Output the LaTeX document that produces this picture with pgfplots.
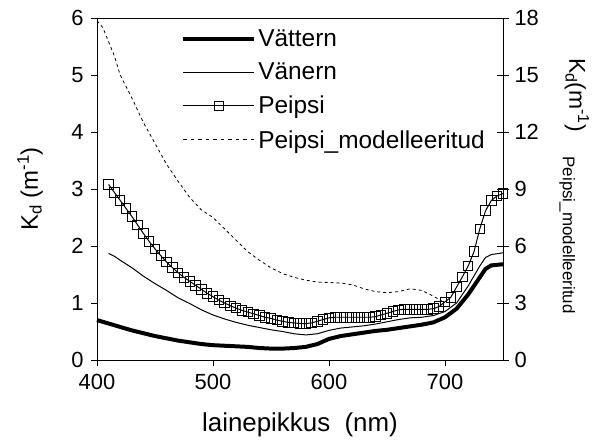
\documentclass[border=0pt]{standalone}
\usepackage{pgfplots}
\pgfplotsset{compat=1.18}
\usepackage{fontspec}
\setmainfont{Liberation Sans}
\begin{document}
\begin{tikzpicture}
\path[use as bounding box] (-97bp,-86bp) rectangle (500bp,360bp);
\begin{axis}[
  scale only axis, width=406bp, height=342bp,
  xmin=400, xmax=750, ymin=0, ymax=6,
  xtick={400,500,600,700}, ytick={0,1,2,3,4,5,6},
  axis y line*=left, axis x line*=bottom,
  tick align=outside, major tick length=6bp,
  tick style={black, line width=0.8pt},
  axis line style={line width=0.9pt},
  /pgf/number format/assume math mode=true,
  ticklabel style={font=\fontsize{22}{26}\selectfont},
  xticklabel style={yshift=-5bp},
  yticklabel style={xshift=-4bp},
  legend style={draw=none, fill=none, at={(0.205,0.975)}, anchor=north west,
    font=\fontsize{24.5}{28}\selectfont, row sep=11pt, inner sep=1pt},
  legend cell align=left,
  legend image code/.code={\draw[mark repeat=2,mark phase=2,#1] plot coordinates {(0cm,0cm) (1.25cm,0cm) (2.5cm,0cm)};},
  clip=false,
]
\addplot[black, line width=4pt] coordinates {
(400,0.70) (410,0.64) (420,0.58) (430,0.52) (440,0.47) (450,0.42) (460,0.38) (470,0.34) (480,0.31) (490,0.28) (500,0.26) (510,0.25) (520,0.24) (530,0.23) (540,0.21) (550,0.20) (560,0.20) (570,0.21) (580,0.23) (590,0.28) (600,0.37) (610,0.42) (620,0.45) (630,0.48) (640,0.51) (650,0.53) (660,0.56) (670,0.59) (680,0.62) (690,0.66) (700,0.75) (710,0.90) (720,1.15) (730,1.45) (735,1.60) (740,1.66) (750,1.68)};
\addlegendentry{Vättern}
\addplot[black, line width=1pt] coordinates {
(410,1.87) (415,1.82) (420,1.75) (430,1.62) (440,1.47) (450,1.34) (460,1.22) (470,1.09) (480,0.99) (490,0.88) (500,0.79) (510,0.72) (520,0.66) (530,0.61) (540,0.57) (550,0.53) (560,0.50) (570,0.46) (580,0.44) (590,0.46) (600,0.52) (610,0.56) (620,0.58) (630,0.60) (640,0.63) (650,0.67) (660,0.71) (670,0.74) (680,0.75) (690,0.78) (700,0.85) (710,1.00) (720,1.30) (730,1.65) (735,1.80) (740,1.85) (750,1.88)};
\addlegendentry{Vänern}
\addplot[black, line width=1pt, mark=square, mark size=4.8pt, mark options={solid, line width=1pt}] coordinates {
(410,3.08) (415,2.94) (420,2.80) (425,2.66) (430,2.52) (435,2.37) (440,2.22) (445,2.08) (450,1.95) (455,1.83) (460,1.72) (465,1.62) (470,1.53) (475,1.45) (480,1.38) (485,1.31) (490,1.24) (495,1.17) (500,1.11) (505,1.05) (510,1.00) (515,0.95) (520,0.91) (525,0.87) (530,0.84) (535,0.81) (540,0.78) (545,0.75) (550,0.73) (555,0.70) (560,0.68) (565,0.66) (570,0.65) (575,0.64) (580,0.64) (585,0.65) (590,0.68) (595,0.71) (600,0.74) (605,0.75) (610,0.75) (615,0.75) (620,0.75) (625,0.75) (630,0.75) (635,0.75) (640,0.76) (645,0.79) (650,0.82) (655,0.85) (660,0.88) (665,0.89) (670,0.89) (675,0.89) (680,0.89) (685,0.89) (690,0.90) (695,0.94) (700,1.02) (705,1.10) (710,1.28) (715,1.46) (720,1.65) (725,1.90) (730,2.30) (735,2.62) (740,2.80) (745,2.88) (750,2.92)};
\addlegendentry{Peipsi}
\addlegendimage{black, line width=1pt, dash pattern=on 3.5pt off 4pt}
\addlegendentry{Peipsi\_modelleeritud}
\draw[line width=0.9pt] (rel axis cs:0,1) -- (rel axis cs:1,1);
\node[rotate=90, font=\fontsize{24}{28}\selectfont] at (axis description cs:-0.165,0.5) {K\textsubscript{d} (m\textsuperscript{-1})};
\node[font=\fontsize{26}{30}\selectfont] at (axis description cs:0.5,-0.19) {lainepikkus\ \ (nm)};
\node[rotate=-90, font=\fontsize{23}{27}\selectfont] at (axis description cs:1.182,0.775) {K\textsubscript{d}(m\textsuperscript{-1})};
\node[rotate=-90, font=\fontsize{17}{20}\selectfont] at (axis description cs:1.158,0.365) {Peipsi\_modelleeritud};
\end{axis}
\begin{axis}[
  scale only axis, width=406bp, height=342bp,
  xmin=400, xmax=750, ymin=0, ymax=18,
  ytick={0,3,6,9,12,15,18},
  axis y line*=right, axis x line=none,
  tick align=center, major tick length=12bp,
  tick style={black, line width=0.8pt},
  axis line style={line width=0.9pt},
  /pgf/number format/assume math mode=true,
  ticklabel style={font=\fontsize{22}{26}\selectfont},
  yticklabel style={xshift=2bp},
]
\addplot[black, line width=0.8pt, dash pattern=on 3pt off 3pt] coordinates {
(400,17.85) (405,17.5) (415,16.0) (420,15.0) (430,13.8) (440,12.5) (450,11.4) (460,10.3) (470,9.4) (480,8.55) (490,7.9) (500,7.5) (510,6.9) (520,6.3) (530,5.7) (540,5.25) (550,4.85) (560,4.55) (570,4.35) (580,4.2) (590,4.1) (600,4.08) (610,4.05) (620,3.96) (630,3.75) (640,3.6) (650,3.54) (660,3.6) (670,3.75) (680,3.66) (690,3.36) (700,3.0)};
\end{axis}
\end{tikzpicture}
\end{document}
